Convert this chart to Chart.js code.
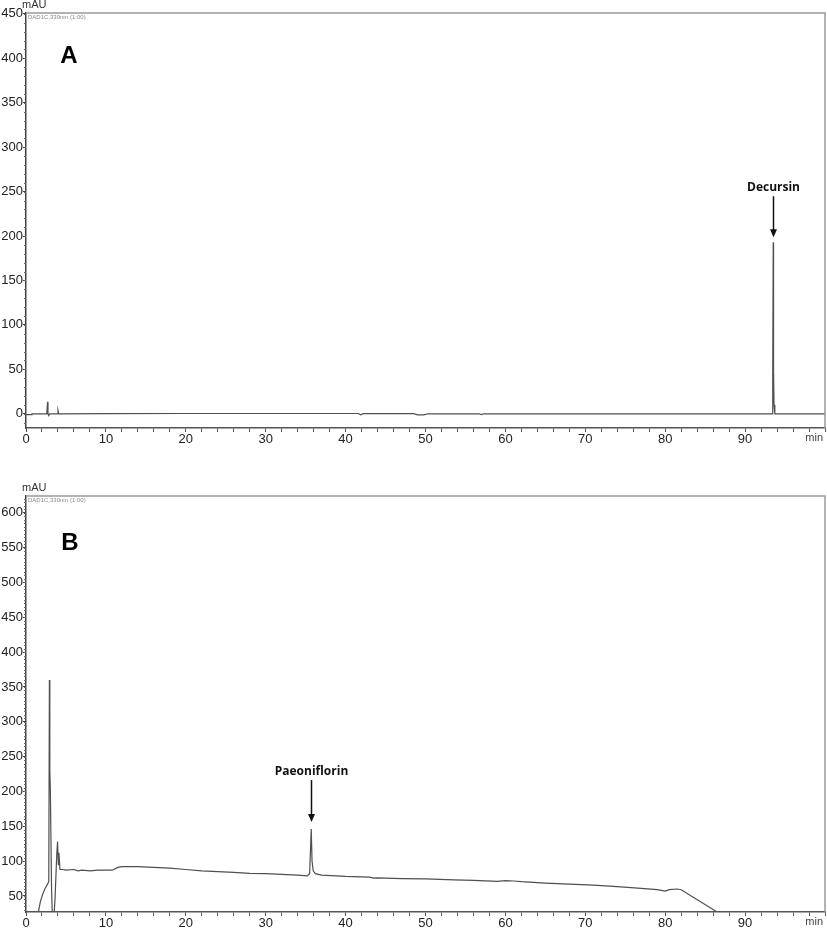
<!DOCTYPE html>
<html>
<head>
<meta charset="utf-8">
<script src="https://cdn.jsdelivr.net/npm/chart.js@4.4.1/dist/chart.umd.min.js"></script>
<style>
  body { margin: 0; background: #fff; }
  .panel { position: absolute; left: 0; width: 827px; }
  #panelA { top: 0; height: 464px; }
  #panelB { top: 464px; height: 465px; }
</style>
</head>
<body>
<div class="panel" id="panelA"><canvas id="cromA" width="827" height="464"></canvas></div>
<div class="panel" id="panelB"><canvas id="cromB" width="827" height="465"></canvas></div>
<script>
// Cromatograma A (Decursin) - tiempo en min, absorbancia en mAU
const tiempoA = [0, 0.7, 0.75, 2.6, 2.7, 2.75, 2.85, 2.95, 3.1, 3.9, 4.0, 4.1, 4.2, 10, 20, 30, 41.6, 41.9, 42.2,
    48.5, 49, 49.8, 50.3, 56.7, 57, 57.3, 70, 80, 90, 93.4, 93.46, 93.52, 93.56, 93.62, 93.72, 95, 100];
const absA = [-1, -1, 0, 0, 13.5, 0, -2, 0, 0, 0, 4, 0, 0, 0.2, 0.3, 0.3, 0.3, -1.2, 0.2,
    0.2, -1.3, -1.3, 0, 0, -1, 0, 0, 0, 0, 0, 46, 193, 48, 10, 0, 0, 0];
const ejeYA = [0, 50, 100, 150, 200, 250, 300, 350, 400, 450];

// Cromatograma B (Paeoniflorin)
const tiempoB = [0, 1.55, 1.8, 2.1, 2.4, 2.7, 2.85, 2.93, 2.98, 3.05, 3.2, 3.3, 3.5, 3.65, 3.85, 3.95, 4.05, 4.12, 4.25,
    4.6, 5, 6, 6.5, 7, 8, 9, 10, 10.8, 11.5, 12, 14, 16, 18, 20, 22, 24, 26, 28, 30, 32, 34, 35.2, 35.5, 35.7, 35.8,
    35.95, 36.2, 37, 40, 43, 43.5, 44, 47, 50, 53.6, 56, 59, 60, 61, 62, 65, 68, 71, 74, 77, 79, 80, 80.5, 81.5, 82,
    86.5, 90, 100];
const absB = [20, 27, 42, 53, 61, 67, 71, 360, 230, 200, 60, 20, 20, 50, 110, 128, 95, 112, 88,
    88, 87, 88, 86, 87, 86, 87, 87, 87, 91, 92, 92, 91, 90, 88, 86, 85, 84, 82.5, 82, 81, 80, 79, 82, 146, 100,
    86, 82, 80, 78, 77, 75.5, 76, 75, 74.5, 73, 72.5, 71, 72, 71.5, 70.5, 68.5, 67, 65.5, 63.5, 61, 59, 57, 59, 60, 59,
    27, 20, 20];
const ejeYB = [50, 100, 150, 200, 250, 300, 350, 400, 450, 500, 550, 600];

// Etiquetas del eje de tiempo
const ticksX = [0, 10, 20, 30, 40, 50, 60, 70, 80, 90];

const fuente = '"Liberation Sans", Arial, sans-serif';

// Marcas del eje X cada 2 min
const marcasX = [];
for (let t = 0; t <= 100; t += 2) marcasX.push(t);

// Plugin: marco, marcas menores, textos y flecha del pico
const decoracion = {
    id: 'decoracion',
    afterDraw(chart, args, opts) {
        const { ctx, chartArea: a, scales: { x, y } } = chart;
        ctx.save();

        // marco superior y derecho
        ctx.strokeStyle = '#9a9a9a';
        ctx.lineWidth = 1.5;
        ctx.beginPath();
        ctx.moveTo(a.left, a.top);
        ctx.lineTo(a.right, a.top);
        ctx.lineTo(a.right, a.bottom);
        ctx.stroke();

        // marcas menores del eje Y
        ctx.strokeStyle = '#666';
        ctx.lineWidth = 1;
        for (let v = Math.ceil(y.min / opts.pasoMenor) * opts.pasoMenor; v <= y.max; v += opts.pasoMenor) {
            const py = Math.round(y.getPixelForValue(v)) + 0.5;
            ctx.beginPath();
            ctx.moveTo(a.left - 2, py);
            ctx.lineTo(a.left, py);
            ctx.stroke();
        }

        // unidad del eje Y
        ctx.fillStyle = '#333';
        ctx.font = '11px ' + fuente;
        ctx.textAlign = 'left';
        ctx.textBaseline = 'middle';
        ctx.fillText('mAU', a.left - 4, a.top - 8);

        // señal del detector
        ctx.fillStyle = '#888';
        ctx.font = '6px ' + fuente;
        ctx.textBaseline = 'top';
        ctx.fillText('DAD1C,330nm (1:00)', a.left + 2, a.top + 1);

        // unidad del eje X
        ctx.fillStyle = '#444';
        ctx.font = '11px ' + fuente;
        ctx.textAlign = 'right';
        ctx.textBaseline = 'middle';
        ctx.fillText('min', a.right - 2, a.bottom + 10);

        // letra del panel
        ctx.fillStyle = '#000';
        ctx.font = 'bold 24px ' + fuente;
        ctx.textAlign = 'center';
        ctx.fillText(opts.letra, a.left + opts.letraX, a.top + opts.letraY);

        // flecha y nombre del pico
        const p = opts.pico;
        const px = Math.round(x.getPixelForValue(p.tiempo)) + 0.5;
        const punta = y.getPixelForValue(p.valor) - p.hueco;
        const inicio = punta - p.largo;
        ctx.strokeStyle = '#111';
        ctx.lineWidth = 1.5;
        ctx.beginPath();
        ctx.moveTo(px, inicio);
        ctx.lineTo(px, punta - 6);
        ctx.stroke();
        ctx.fillStyle = '#111';
        ctx.beginPath();
        ctx.moveTo(px - 3.5, punta - 8);
        ctx.lineTo(px + 3.5, punta - 8);
        ctx.lineTo(px, punta);
        ctx.closePath();
        ctx.fill();
        ctx.font = 'bold 12px "Open Sans", sans-serif';
        ctx.fillText(p.nombre, px, inicio - 9);

        ctx.restore();
    }
};

function crearCromatograma(id, tiempos, valores, yMin, yMax, ejeY, altoEjeX, padTop, deco) {
    const ctx = document.getElementById(id).getContext('2d');
    new Chart(ctx, {
        type: 'line',
        data: {
            datasets: [{
                data: tiempos.map((t, i) => ({ x: t, y: valores[i] })),
                borderColor: '#4f4f4f',
                borderWidth: 1.2,
                pointRadius: 0,
                tension: 0
            }]
        },
        options: {
            responsive: false,
            animation: false,
            layout: { padding: { top: padTop, right: 2, left: 0, bottom: 0 } },
            plugins: {
                legend: { display: false },
                tooltip: { enabled: false },
                decoracion: deco
            },
            scales: {
                x: {
                    type: 'linear',
                    min: 0,
                    max: 100,
                    afterBuildTicks: ax => { ax.ticks = marcasX.map(v => ({ value: v })); },
                    afterFit: ax => { ax.height = altoEjeX; },
                    ticks: {
                        autoSkip: false,
                        maxRotation: 0,
                        padding: 0,
                        color: '#222',
                        font: { size: 13, family: fuente },
                        callback: v => ticksX.includes(v) ? v : ''
                    },
                    grid: { drawOnChartArea: false, tickLength: 4, tickColor: '#555' },
                    border: { color: '#555', width: 1.5 }
                },
                y: {
                    type: 'linear',
                    min: yMin,
                    max: yMax,
                    afterBuildTicks: ax => { ax.ticks = ejeY.map(v => ({ value: v })); },
                    afterFit: ax => { ax.width = 26; },
                    ticks: {
                        padding: 0,
                        color: '#222',
                        font: { size: 13, family: fuente }
                    },
                    grid: { drawOnChartArea: false, tickLength: 3, tickColor: '#444' },
                    border: { color: '#444', width: 1.5 }
                }
            }
        },
        plugins: [decoracion]
    });
}

crearCromatograma('cromA', tiempoA, absA, -16, 451, ejeYA, 36, 13, {
    letra: 'A', letraX: 43, letraY: 43, pasoMenor: 10,
    pico: { nombre: 'Decursin', tiempo: 93.52, valor: 193, hueco: 5, largo: 41 }
});

crearCromatograma('cromB', tiempoB, absB, 27, 624, ejeYB, 17, 32, {
    letra: 'B', letraX: 44, letraY: 47, pasoMenor: 5,
    pico: { nombre: 'Paeoniflorin', tiempo: 35.7, valor: 146, hueco: 7, largo: 42 }
});
</script>
</body>
</html>
